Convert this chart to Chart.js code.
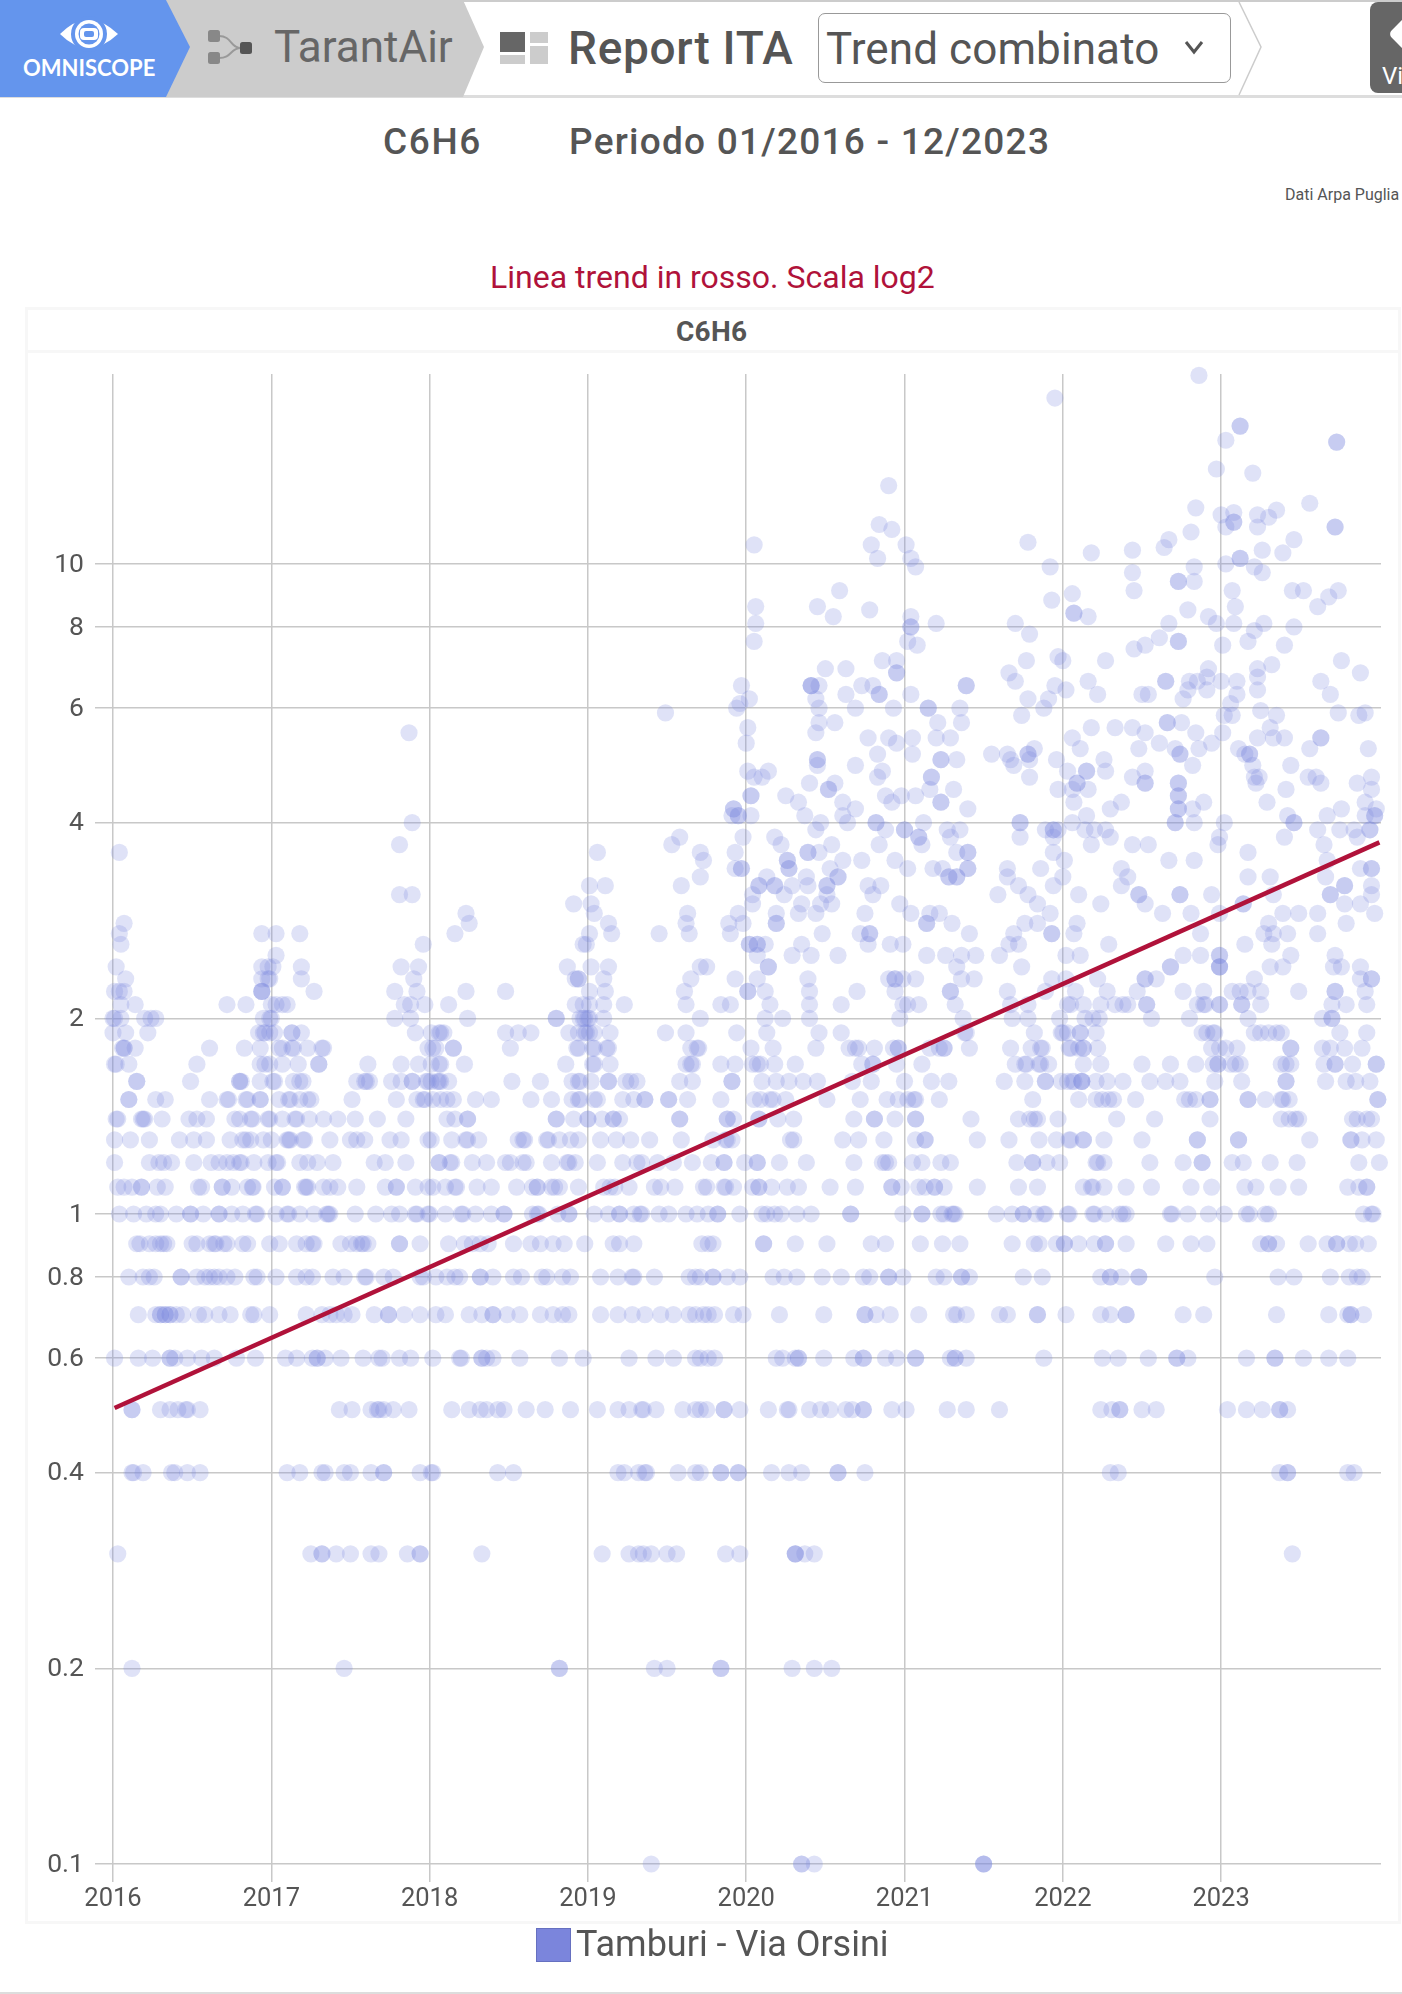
<!DOCTYPE html>
<html>
<head>
<meta charset="utf-8">
<title>C6H6 - TarantAir</title>
<script src="https://cdn.jsdelivr.net/npm/chart.js@4/dist/chart.umd.min.js"></script>
<style>
    html, body { margin: 0; padding: 0; background: #fff; width: 1402px; height: 1994px; overflow: hidden; font-family: Roboto, sans-serif; color: #555; }
    .txt { position: absolute; white-space: nowrap; line-height: 1; }
    #panel { position: absolute; left: 25px; top: 307px; width: 1370px; height: 1611px; border: 3px solid #f7f7f7; box-sizing: content-box; }
    #panel-head { position: absolute; left: 0; right: 0; top: 40px; height: 3px; background: #f7f7f7; }
    #chart { position: absolute; left: 0; top: 0; }
    #nav { position: absolute; left: 0; top: 0; }
    #select { position: absolute; left: 818px; top: 13px; width: 413px; height: 70px; border: 1.5px solid #999; border-radius: 7px; box-sizing: border-box; }
    #view { position: absolute; left: 1370px; top: 2px; width: 32px; height: 91px; background: #666; border-radius: 8px 0 0 8px; overflow: hidden; }
    #legend-box { position: absolute; left: 536px; top: 1928px; width: 35px; height: 34px; background: #7b85dc; border: 1px solid #6670c0; box-sizing: border-box; }
    #bottom-line { position: absolute; left: 0; right: 0; top: 1992px; height: 2px; background: #ddd; }
</style>
</head>
<body>

<svg id="nav" width="1402" height="100" viewBox="0 0 1402 100">
    <rect x="0" y="0" width="1402" height="2" fill="#ccc"/>
    <rect x="0" y="95" width="1402" height="3" fill="#ddd"/>
    <polygon points="165,0 463,0 484,47 463,97 165,97" fill="#ccc"/>
    <polygon points="0,0 166,0 190,47 166,97 0,97" fill="#6495ed"/>
    <polyline points="1239,2 1261,47 1239,95" fill="none" stroke="#ccc" stroke-width="1.5"/>
    <!-- omniscope eye -->
    <path d="M60,34 Q88,6 118,34 Q88,62 60,34 Z" fill="#fff"/>
    <circle cx="89" cy="34" r="18" fill="#6495ed"/>
    <circle cx="89" cy="34" r="14" fill="#fff"/>
    <circle cx="89" cy="34" r="10.5" fill="#6495ed"/>
    <rect x="80" y="28" width="18" height="12" rx="4" fill="#fff"/>
    <rect x="84" y="31" width="10" height="6" rx="2" fill="#6495ed"/>
    <!-- flow icon -->
    <path d="M219,36 C232,36 230,48 241,48 M219,58 C232,58 230,48 241,48" fill="none" stroke="#999" stroke-width="2"/>
    <rect x="208" y="30" width="12" height="12" rx="2.5" fill="#888"/>
    <rect x="208" y="52" width="12" height="12" rx="2.5" fill="#888"/>
    <rect x="240" y="42" width="12" height="12" rx="2.5" fill="#555"/>
    <!-- report icon -->
    <rect x="500" y="32" width="25" height="20" fill="#666"/>
    <rect x="530" y="32" width="18" height="11" fill="#ccc"/>
    <rect x="500" y="55" width="25" height="9" fill="#ccc"/>
    <rect x="530" y="46" width="18" height="18" fill="#ccc"/>
    <!-- select arrow -->
    <polyline points="1186,42 1194,52 1202,42" fill="none" stroke="#555" stroke-width="3"/>
</svg>

<div class="txt" style="left:23px;top:57px;font-family:Lato,sans-serif;font-size:22px;font-weight:700;color:#fff;">OMNISCOPE</div>
<div class="txt" style="left:274px;top:25px;font-size:44px;color:#666;">TarantAir</div>
<div class="txt" style="left:568px;top:25px;font-size:46px;font-weight:500;color:#555;letter-spacing:0.7px;">Report ITA</div>
<div id="select"></div>
<div class="txt" style="left:826px;top:27px;font-size:44px;color:#555;letter-spacing:0.1px;">Trend combinato</div>
<div id="view"><div class="txt" style="left:12px;top:62px;font-size:24px;color:#fff;">Vie</div><div style="position:absolute;left:23px;top:20px;width:24px;height:24px;transform:rotate(45deg);border-radius:5px;background:#fff;"></div></div>

<div class="txt" style="left:383px;top:123px;font-size:37px;font-weight:500;letter-spacing:1.6px;">C6H6</div>
<div class="txt" style="left:569px;top:123px;font-size:37px;font-weight:500;letter-spacing:1.25px;">Periodo 01/2016 - 12/2023</div>
<div class="txt" style="left:1285px;top:187px;font-size:16px;">Dati Arpa Puglia</div>
<div class="txt" style="left:490px;top:261px;font-size:32px;color:#b0123a;">Linea trend in rosso. Scala log2</div>

<div id="panel"><div id="panel-head"></div></div>
<div class="txt" style="left:676px;top:318px;font-size:28px;font-weight:700;letter-spacing:0.3px;">C6H6</div>

<canvas id="chart" width="1402" height="1994"></canvas>

<div id="legend-box"></div>
<div class="txt" style="left:576px;top:1926px;font-size:36px;">Tamburi - Via Orsini</div>
<div id="bottom-line"></div>

<script>
// ============================================
// DATA (decimal years per level)
// ============================================

const seriesName = 'Tamburi - Via Orsini';
const xTickValues = [2016, 2017, 2018, 2019, 2020, 2021, 2022, 2023];
const yTickValues = [0.1, 0.2, 0.4, 0.6, 0.8, 1, 2, 4, 6, 8, 10];
const trendYears = [2016.01, 2024];
const trendValues = [0.503, 3.73];

const y0_1 = [2019.40, 2020.35, 2020.35, 2020.43, 2021.50, 2021.50, 2021.50];
const y0_2 = [2016.12, 2017.46, 2018.82, 2018.82, 2019.42, 2019.50, 2019.84, 2019.84, 2020.29, 2020.43, 2020.54];
const y0_3 = [2016.03, 2017.25, 2017.32, 2017.32, 2017.41, 2017.50, 2017.63, 2017.68, 2017.86, 2017.94, 2017.94, 2018.33, 2019.09, 2019.26, 2019.32, 2019.35, 2019.40, 2019.50, 2019.56, 2019.87, 2019.96, 2020.31, 2020.31, 2020.31, 2020.37, 2020.43, 2023.45];
const y0_4 = [2016.12, 2016.13, 2016.19, 2016.37, 2016.39, 2016.47, 2016.55, 2017.10, 2017.18, 2017.32, 2017.34, 2017.46, 2017.50, 2017.63, 2017.71, 2017.71, 2017.94, 2018.01, 2018.02, 2018.43, 2018.53, 2019.19, 2019.23, 2019.32, 2019.36, 2019.37, 2019.57, 2019.68, 2019.71, 2019.84, 2019.84, 2019.95, 2019.95, 2020.16, 2020.27, 2020.35, 2020.58, 2020.58, 2020.75, 2022.30, 2022.35, 2023.37, 2023.42, 2023.42, 2023.80, 2023.84];
const y0_5 = [2016.12, 2016.12, 2016.30, 2016.36, 2016.41, 2016.46, 2016.47, 2016.55, 2017.43, 2017.51, 2017.63, 2017.67, 2017.68, 2017.71, 2017.77, 2017.87, 2018.14, 2018.25, 2018.32, 2018.36, 2018.43, 2018.47, 2018.61, 2018.73, 2018.89, 2019.06, 2019.19, 2019.26, 2019.34, 2019.35, 2019.43, 2019.60, 2019.68, 2019.71, 2019.75, 2019.86, 2019.86, 2019.96, 2020.14, 2020.26, 2020.27, 2020.40, 2020.47, 2020.53, 2020.63, 2020.67, 2020.74, 2020.74, 2020.92, 2021.01, 2021.27, 2021.39, 2021.60, 2022.24, 2022.31, 2022.36, 2022.36, 2022.50, 2022.59, 2023.04, 2023.16, 2023.26, 2023.37, 2023.37, 2023.42];
const y0_6 = [2016.01, 2016.16, 2016.25, 2016.36, 2016.36, 2016.39, 2016.47, 2016.56, 2016.64, 2016.78, 2016.90, 2017.09, 2017.16, 2017.26, 2017.29, 2017.29, 2017.34, 2017.44, 2017.58, 2017.68, 2017.70, 2017.81, 2017.88, 2018.02, 2018.19, 2018.20, 2018.33, 2018.33, 2018.36, 2018.40, 2018.57, 2018.82, 2018.97, 2019.26, 2019.43, 2019.54, 2019.68, 2019.71, 2019.76, 2019.80, 2020.19, 2020.23, 2020.31, 2020.33, 2020.33, 2020.49, 2020.68, 2020.74, 2020.74, 2020.88, 2020.95, 2021.07, 2021.07, 2021.29, 2021.32, 2021.32, 2021.39, 2021.88, 2022.25, 2022.35, 2022.54, 2022.72, 2022.72, 2022.79, 2023.16, 2023.34, 2023.34, 2023.52, 2023.68, 2023.80];
const y0_7 = [2016.16, 2016.27, 2016.30, 2016.30, 2016.33, 2016.33, 2016.36, 2016.36, 2016.40, 2016.44, 2016.54, 2016.58, 2016.67, 2016.74, 2016.87, 2016.89, 2016.99, 2017.22, 2017.32, 2017.37, 2017.41, 2017.46, 2017.51, 2017.65, 2017.74, 2017.74, 2017.84, 2017.94, 2018.04, 2018.10, 2018.25, 2018.33, 2018.40, 2018.40, 2018.49, 2018.57, 2018.70, 2018.78, 2018.84, 2018.88, 2019.08, 2019.19, 2019.28, 2019.36, 2019.46, 2019.54, 2019.64, 2019.68, 2019.73, 2019.76, 2019.80, 2019.92, 2019.98, 2020.21, 2020.49, 2020.75, 2020.75, 2020.82, 2020.91, 2021.09, 2021.31, 2021.33, 2021.39, 2021.60, 2021.65, 2021.84, 2021.84, 2022.02, 2022.24, 2022.30, 2022.40, 2022.40, 2022.76, 2022.89, 2023.35, 2023.68, 2023.80, 2023.82, 2023.82, 2023.90];
const y0_8 = [2016.10, 2016.19, 2016.23, 2016.26, 2016.43, 2016.43, 2016.53, 2016.58, 2016.61, 2016.64, 2016.67, 2016.72, 2016.77, 2016.89, 2016.91, 2017.03, 2017.16, 2017.22, 2017.26, 2017.39, 2017.46, 2017.60, 2017.59, 2017.71, 2017.77, 2017.94, 2017.96, 2018.04, 2018.11, 2018.16, 2018.19, 2018.32, 2018.32, 2018.40, 2018.53, 2018.58, 2018.71, 2018.74, 2018.84, 2018.89, 2019.08, 2019.19, 2019.28, 2019.29, 2019.42, 2019.64, 2019.68, 2019.71, 2019.79, 2019.79, 2019.88, 2019.96, 2020.17, 2020.24, 2020.32, 2020.48, 2020.60, 2020.74, 2020.78, 2020.90, 2020.90, 2020.99, 2021.20, 2021.25, 2021.36, 2021.36, 2021.41, 2021.75, 2021.87, 2022.24, 2022.30, 2022.30, 2022.37, 2022.48, 2022.48, 2022.96, 2023.36, 2023.46, 2023.69, 2023.81, 2023.86, 2023.89];
const y0_9 = [2016.15, 2016.17, 2016.23, 2016.27, 2016.30, 2016.32, 2016.34, 2016.50, 2016.53, 2016.61, 2016.64, 2016.65, 2016.70, 2016.72, 2016.82, 2016.85, 2016.99, 2017.05, 2017.16, 2017.22, 2017.26, 2017.27, 2017.44, 2017.50, 2017.54, 2017.57, 2017.58, 2017.61, 2017.81, 2017.81, 2017.94, 2018.12, 2018.22, 2018.27, 2018.32, 2018.37, 2018.53, 2018.64, 2018.70, 2018.78, 2018.85, 2018.98, 2019.16, 2019.20, 2019.29, 2019.72, 2019.76, 2019.79, 2020.11, 2020.11, 2020.31, 2020.51, 2020.79, 2020.88, 2021.10, 2021.24, 2021.35, 2021.68, 2021.82, 2021.85, 2021.96, 2022.01, 2022.01, 2022.10, 2022.20, 2022.27, 2022.27, 2022.40, 2022.65, 2022.81, 2022.91, 2023.25, 2023.30, 2023.30, 2023.35, 2023.55, 2023.67, 2023.73, 2023.73, 2023.81, 2023.85, 2023.93];
const y1_0 = [2016.04, 2016.13, 2016.21, 2016.27, 2016.30, 2016.40, 2016.49, 2016.49, 2016.57, 2016.67, 2016.67, 2016.75, 2016.82, 2016.90, 2016.91, 2017.03, 2017.10, 2017.11, 2017.18, 2017.27, 2017.35, 2017.36, 2017.37, 2017.53, 2017.66, 2017.76, 2017.81, 2017.91, 2017.92, 2017.99, 2018.00, 2018.10, 2018.20, 2018.21, 2018.29, 2018.39, 2018.47, 2018.47, 2018.65, 2018.68, 2018.69, 2018.81, 2018.88, 2018.88, 2019.04, 2019.13, 2019.20, 2019.20, 2019.29, 2019.33, 2019.34, 2019.45, 2019.51, 2019.62, 2019.69, 2019.76, 2019.82, 2019.82, 2019.96, 2020.10, 2020.13, 2020.18, 2020.22, 2020.32, 2020.41, 2020.66, 2020.66, 2020.99, 2021.11, 2021.11, 2021.23, 2021.25, 2021.30, 2021.31, 2021.32, 2021.58, 2021.68, 2021.75, 2021.75, 2021.83, 2021.88, 2021.89, 2022.03, 2022.04, 2022.19, 2022.20, 2022.27, 2022.36, 2022.38, 2022.40, 2022.68, 2022.69, 2022.79, 2022.92, 2023.02, 2023.16, 2023.18, 2023.28, 2023.30, 2023.90, 2023.95, 2023.96];
const y1_1 = [2016.03, 2016.07, 2016.12, 2016.18, 2016.18, 2016.28, 2016.33, 2016.54, 2016.56, 2016.69, 2016.69, 2016.75, 2016.85, 2016.88, 2016.885, 2017.02, 2017.07, 2017.07, 2017.21, 2017.22, 2017.23, 2017.33, 2017.37, 2017.42, 2017.54, 2017.72, 2017.79, 2017.79, 2017.91, 2017.99, 2018.02, 2018.10, 2018.16, 2018.17, 2018.30, 2018.39, 2018.55, 2018.65, 2018.68, 2018.68, 2018.77, 2018.79, 2018.82, 2018.94, 2019.10, 2019.14, 2019.17, 2019.26, 2019.42, 2019.46, 2019.55, 2019.73, 2019.75, 2019.86, 2019.87, 2019.92, 2020.04, 2020.08, 2020.08, 2020.16, 2020.26, 2020.33, 2020.53, 2020.69, 2020.92, 2020.92, 2020.98, 2021.09, 2021.13, 2021.19, 2021.19, 2021.25, 2021.46, 2021.72, 2021.84, 2022.13, 2022.18, 2022.19, 2022.26, 2022.40, 2022.56, 2022.81, 2022.94, 2023.15, 2023.22, 2023.36, 2023.49, 2023.80, 2023.87, 2023.92, 2023.92];
const y1_2 = [2016.01, 2016.23, 2016.29, 2016.32, 2016.37, 2016.51, 2016.62, 2016.67, 2016.72, 2016.76, 2016.80, 2016.81, 2016.89, 2016.98, 2017.03, 2017.04, 2017.18, 2017.23, 2017.29, 2017.39, 2017.65, 2017.72, 2017.85, 2018.06, 2018.06, 2018.13, 2018.14, 2018.27, 2018.36, 2018.48, 2018.51, 2018.59, 2018.61, 2018.77, 2018.87, 2018.88, 2018.92, 2019.06, 2019.22, 2019.31, 2019.34, 2019.44, 2019.54, 2019.66, 2019.78, 2019.86, 2019.86, 2019.99, 2020.07, 2020.07, 2020.21, 2020.38, 2020.68, 2020.86, 2020.88, 2020.90, 2021.05, 2021.11, 2021.23, 2021.29, 2021.71, 2021.81, 2021.81, 2021.90, 2021.98, 2022.21, 2022.22, 2022.26, 2022.55, 2022.76, 2022.88, 2022.88, 2023.07, 2023.14, 2023.31, 2023.48, 2023.87, 2024.00];
const y1_3 = [2016.01, 2016.11, 2016.23, 2016.42, 2016.51, 2016.59, 2016.74, 2016.82, 2016.84, 2016.87, 2016.95, 2017.00, 2017.10, 2017.11, 2017.12, 2017.20, 2017.21, 2017.37, 2017.50, 2017.54, 2017.59, 2017.75, 2017.82, 2017.99, 2018.01, 2018.14, 2018.23, 2018.24, 2018.31, 2018.56, 2018.59, 2018.60, 2018.74, 2018.75, 2018.82, 2018.89, 2018.94, 2019.08, 2019.18, 2019.27, 2019.39, 2019.59, 2019.79, 2019.87, 2019.88, 2019.91, 2020.28, 2020.30, 2020.61, 2020.71, 2020.87, 2021.07, 2021.13, 2021.13, 2021.46, 2021.66, 2021.85, 2021.96, 2022.04, 2022.05, 2022.13, 2022.13, 2022.26, 2022.50, 2022.85, 2022.85, 2023.11, 2023.11, 2023.56, 2023.82, 2023.82, 2023.89, 2023.98];
const y1_4 = [2016.02, 2016.03, 2016.18, 2016.19, 2016.20, 2016.31, 2016.48, 2016.53, 2016.59, 2016.77, 2016.80, 2016.87, 2016.88, 2016.98, 2016.99, 2017.07, 2017.15, 2017.16, 2017.24, 2017.33, 2017.42, 2017.53, 2017.67, 2017.85, 2018.11, 2018.16, 2018.24, 2018.24, 2018.80, 2018.80, 2018.91, 2019.00, 2019.00, 2019.09, 2019.16, 2019.16, 2019.20, 2019.58, 2019.58, 2019.88, 2019.88, 2019.92, 2020.08, 2020.08, 2020.20, 2020.30, 2020.68, 2020.81, 2020.81, 2020.94, 2021.07, 2021.07, 2021.42, 2021.72, 2021.79, 2021.82, 2021.84, 2021.97, 2022.34, 2022.58, 2022.93, 2023.38, 2023.43, 2023.47, 2023.49, 2023.83, 2023.86, 2023.92, 2023.95];
const y1_5 = [2016.10, 2016.10, 2016.27, 2016.33, 2016.61, 2016.72, 2016.73, 2016.84, 2016.85, 2016.93, 2016.93, 2017.05, 2017.11, 2017.12, 2017.18, 2017.23, 2017.25, 2017.51, 2017.79, 2017.92, 2017.96, 2017.97, 2018.02, 2018.07, 2018.11, 2018.15, 2018.29, 2018.39, 2018.64, 2018.77, 2018.90, 2018.94, 2018.95, 2019.04, 2019.06, 2019.22, 2019.29, 2019.36, 2019.36, 2019.51, 2019.51, 2019.63, 2019.84, 2020.05, 2020.09, 2020.15, 2020.17, 2020.25, 2020.51, 2020.72, 2020.89, 2020.96, 2021.02, 2021.06, 2021.07, 2021.22, 2021.81, 2022.10, 2022.21, 2022.25, 2022.29, 2022.32, 2022.46, 2022.77, 2022.80, 2022.84, 2022.93, 2022.93, 2023.17, 2023.17, 2023.28, 2023.38, 2023.39, 2023.43, 2023.99, 2023.99];
const y1_6 = [2016.15, 2016.15, 2016.49, 2016.80, 2016.80, 2016.81, 2016.93, 2017.01, 2017.02, 2017.14, 2017.18, 2017.20, 2017.54, 2017.59, 2017.60, 2017.62, 2017.76, 2017.82, 2017.89, 2017.89, 2017.98, 2017.99, 2018.01, 2018.05, 2018.06, 2018.07, 2018.12, 2018.52, 2018.70, 2018.90, 2018.94, 2018.95, 2019.02, 2019.13, 2019.13, 2019.24, 2019.27, 2019.31, 2019.58, 2019.66, 2019.91, 2019.91, 2020.10, 2020.19, 2020.27, 2020.36, 2020.45, 2020.67, 2020.79, 2021.00, 2021.17, 2021.28, 2021.63, 2021.76, 2021.89, 2021.89, 2021.99, 2022.06, 2022.03, 2022.07, 2022.12, 2022.12, 2022.12, 2022.21, 2022.28, 2022.38, 2022.55, 2022.65, 2022.74, 2022.96, 2023.13, 2023.41, 2023.41, 2023.66, 2023.79, 2023.85, 2023.94];
const y1_7 = [2016.01, 2016.02, 2016.10, 2016.53, 2016.93, 2016.96, 2016.99, 2017.07, 2017.17, 2017.30, 2017.30, 2017.61, 2017.82, 2017.93, 2018.01, 2018.06, 2018.07, 2018.22, 2018.86, 2019.03, 2019.04, 2019.14, 2019.62, 2019.65, 2019.66, 2019.84, 2019.93, 2020.04, 2020.07, 2020.09, 2020.18, 2020.31, 2020.73, 2020.80, 2020.80, 2020.95, 2021.11, 2021.70, 2021.76, 2021.77, 2021.85, 2021.86, 2021.91, 2022.13, 2022.24, 2022.50, 2022.68, 2022.84, 2022.95, 2022.98, 2022.98, 2023.06, 2023.09, 2023.12, 2023.38, 2023.41, 2023.44, 2023.65, 2023.72, 2023.72, 2023.83, 2023.98, 2023.98];
const y1_8 = [2016.06, 2016.07, 2016.07, 2016.14, 2016.61, 2016.83, 2016.93, 2017.05, 2017.07, 2017.13, 2017.14, 2017.23, 2017.32, 2017.33, 2017.99, 2018.02, 2018.04, 2018.15, 2018.15, 2018.51, 2018.93, 2018.94, 2019.03, 2019.04, 2019.12, 2019.13, 2019.65, 2019.69, 2019.70, 2020.03, 2020.17, 2020.44, 2020.65, 2020.69, 2020.71, 2020.81, 2020.93, 2020.96, 2020.96, 2021.16, 2021.22, 2021.25, 2021.25, 2021.41, 2021.67, 2021.80, 2021.86, 2021.87, 2022.04, 2022.05, 2022.10, 2022.13, 2022.13, 2022.22, 2022.94, 2022.99, 2023.03, 2023.10, 2023.44, 2023.44, 2023.64, 2023.69, 2023.78, 2023.89];
const y1_9 = [2016.00, 2016.08, 2016.22, 2016.92, 2016.95, 2016.96, 2016.99, 2017.02, 2017.13, 2017.13, 2017.19, 2017.91, 2018.01, 2018.06, 2018.07, 2018.09, 2018.48, 2018.56, 2018.64, 2018.88, 2018.94, 2018.98, 2018.99, 2019.01, 2019.04, 2019.14, 2019.49, 2019.62, 2019.94, 2020.13, 2020.46, 2020.60, 2021.38, 2021.39, 2021.82, 2021.99, 2022.00, 2022.03, 2022.11, 2022.11, 2022.21, 2022.88, 2022.91, 2022.95, 2022.96, 2023.21, 2023.25, 2023.30, 2023.35, 2023.38, 2023.75, 2023.92];
const y2_0 = [2016.00, 2016.01, 2016.05, 2016.20, 2016.24, 2016.27, 2016.95, 2016.99, 2017.00, 2017.78, 2017.88, 2018.24, 2018.80, 2018.80, 2018.95, 2018.97, 2018.98, 2019.00, 2019.01, 2019.10, 2019.71, 2020.12, 2020.23, 2020.40, 2020.97, 2021.37, 2021.68, 2021.78, 2021.98, 2022.14, 2022.19, 2022.23, 2022.56, 2022.80, 2023.17, 2023.64, 2023.70, 2023.70];
const y2_1 = [2016.05, 2016.14, 2016.72, 2016.84, 2017.00, 2017.03, 2017.07, 2017.10, 2017.84, 2017.88, 2017.97, 2018.12, 2018.92, 2018.97, 2019.01, 2019.10, 2019.23, 2019.62, 2019.84, 2019.90, 2020.15, 2020.40, 2020.60, 2020.99, 2021.02, 2021.09, 2021.32, 2021.67, 2021.78, 2022.03, 2022.05, 2022.13, 2022.24, 2022.33, 2022.38, 2022.41, 2022.53, 2022.53, 2022.85, 2022.89, 2022.90, 2022.99, 2022.99, 2023.13, 2023.13, 2023.25, 2023.70, 2023.79, 2023.92];
const y2_2 = [2016.01, 2016.04, 2016.07, 2016.94, 2016.94, 2016.94, 2017.27, 2017.78, 2017.92, 2018.23, 2018.48, 2019.01, 2019.11, 2019.61, 2020.01, 2020.01, 2020.12, 2020.40, 2020.70, 2020.94, 2021.29, 2021.29, 2021.65, 2021.89, 2022.08, 2022.28, 2022.47, 2022.76, 2022.89, 2023.07, 2023.12, 2023.17, 2023.25, 2023.49, 2023.72, 2023.72, 2023.91];
const y2_3 = [2016.08, 2016.94, 2016.98, 2016.99, 2017.19, 2017.90, 2018.92, 2018.94, 2018.94, 2019.10, 2019.65, 2019.93, 2020.07, 2020.39, 2020.90, 2020.94, 2020.94, 2020.99, 2021.07, 2021.36, 2021.44, 2021.93, 2022.02, 2022.22, 2022.52, 2022.52, 2022.59, 2023.21, 2023.88, 2023.95, 2023.95];
const y2_4 = [2016.02, 2016.94, 2016.98, 2017.01, 2017.19, 2017.82, 2017.93, 2018.87, 2019.02, 2019.13, 2019.71, 2019.75, 2020.14, 2020.14, 2021.33, 2021.74, 2022.68, 2022.68, 2022.99, 2022.99, 2022.99, 2023.31, 2023.39, 2023.71, 2023.76, 2023.88];
const y2_5 = [2017.03, 2020.07, 2020.29, 2020.41, 2020.58, 2021.14, 2021.26, 2021.36, 2021.45, 2021.60, 2022.02, 2022.11, 2022.76, 2022.87, 2022.99, 2022.99, 2023.44, 2023.72];
const y2_6 = [2016.05, 2017.96, 2018.97, 2018.99, 2020.02, 2020.02, 2020.07, 2020.07, 2020.12, 2020.35, 2020.77, 2020.91, 2020.99, 2021.66, 2021.72, 2022.29, 2023.15, 2023.32];
const y2_7 = [2016.04, 2016.94, 2017.03, 2017.18, 2018.16, 2019.01, 2019.15, 2019.45, 2019.64, 2019.90, 2020.48, 2020.72, 2020.78, 2020.78, 2021.41, 2021.69, 2021.93, 2021.93, 2022.07, 2022.87, 2023.27, 2023.33, 2023.42, 2023.61];
const y2_8 = [2016.07, 2018.25, 2019.13, 2019.62, 2019.89, 2019.98, 2020.19, 2020.19, 2021.14, 2021.14, 2021.30, 2021.76, 2021.84, 2022.09, 2023.30, 2023.79];
const y2_9 = [2018.23, 2019.04, 2019.63, 2019.95, 2020.19, 2020.33, 2020.44, 2020.75, 2021.04, 2021.16, 2021.22, 2021.92, 2022.63, 2022.81, 2022.99, 2023.39, 2023.49, 2023.61, 2023.97];
const y3_0 = [2018.91, 2019.02, 2020.04, 2020.35, 2020.47, 2020.54, 2020.97, 2021.84, 2022.24, 2022.52, 2023.14, 2023.14, 2023.78, 2023.88];
const y3_1 = [2017.81, 2017.89, 2020.04, 2020.24, 2020.51, 2020.80, 2021.59, 2021.78, 2022.10, 2022.48, 2022.48, 2022.74, 2022.74, 2022.94, 2023.33, 2023.69, 2023.69, 2023.95];
const y3_2 = [2019.01, 2019.11, 2019.59, 2020.08, 2020.08, 2020.18, 2020.18, 2020.29, 2020.39, 2020.51, 2020.51, 2020.77, 2020.85, 2021.72, 2021.94, 2022.37, 2023.78, 2023.78, 2023.95];
const y3_3 = [2019.71, 2020.13, 2020.38, 2020.58, 2020.58, 2021.28, 2021.28, 2021.33, 2021.33, 2021.65, 2022.00, 2022.41, 2023.17, 2023.31, 2023.66];
const y3_4 = [2019.93, 2019.97, 2019.97, 2020.27, 2020.27, 2020.53, 2021.02, 2021.18, 2021.24, 2021.40, 2021.40, 2021.65, 2021.86, 2022.37, 2023.88, 2023.95, 2023.95];
const y3_5 = [2019.73, 2020.26, 2020.26, 2020.61, 2020.73, 2020.94, 2022.01, 2022.67, 2022.83, 2023.67];
const y3_6 = [2016.04, 2019.06, 2019.71, 2019.93, 2020.39, 2020.39, 2020.46, 2021.33, 2021.40, 2021.40, 2021.94, 2023.17];
const y3_7 = [2017.81, 2019.53, 2020.22, 2020.54, 2020.84, 2021.11, 2022.18, 2022.44, 2022.54, 2022.98, 2023.65];
const y3_8 = [2019.58, 2019.98, 2020.18, 2021.09, 2021.09, 2021.29, 2021.73, 2021.94, 2022.30, 2022.99, 2023.40, 2023.86];
const y3_9 = [2020.44, 2020.88, 2021.00, 2021.00, 2021.27, 2021.35, 2021.89, 2021.94, 2021.94, 2021.97, 2022.14, 2022.20, 2022.27, 2023.61, 2023.75, 2023.84, 2023.94, 2023.94];
const y4_0 = [2017.89, 2020.47, 2020.64, 2020.82, 2020.82, 2021.12, 2021.73, 2021.73, 2022.06, 2022.71, 2022.71, 2022.83, 2023.02, 2023.46, 2023.46];
const y4_1 = [2019.91, 2019.95, 2019.95, 2020.03, 2020.37, 2020.61, 2022.15, 2023.42, 2023.67, 2023.91, 2023.97, 2023.97];
const y4_2 = [2019.92, 2019.92, 2020.69, 2021.40, 2022.30, 2022.73, 2022.73, 2022.82, 2023.76, 2023.98];
const y4_3 = [2020.33, 2020.61, 2020.92, 2021.23, 2021.23, 2022.07, 2022.37, 2022.89, 2023.29, 2023.91];
const y4_4 = [2020.03, 2020.03, 2020.25, 2020.88, 2020.98, 2021.07, 2022.73, 2022.73];
const y4_5 = [2020.52, 2020.52, 2021.16, 2021.31, 2021.97, 2022.06, 2022.16, 2023.41, 2023.95];
const y4_6 = [2020.40, 2020.56, 2022.09, 2022.09, 2022.52, 2022.52, 2022.73, 2022.73, 2023.22, 2023.63, 2023.86];
const y4_7 = [2020.05, 2020.10, 2020.83, 2021.17, 2021.17, 2021.79, 2022.44, 2023.21, 2023.24, 2023.55, 2023.60, 2023.95];
const y4_8 = [2020.01, 2020.14, 2020.86, 2022.03, 2022.15, 2022.15, 2022.27, 2022.52];
const y4_9 = [2020.45, 2020.69, 2021.69, 2022.82, 2023.20, 2023.44];
const y5_0 = [2020.45, 2020.45, 2021.23, 2021.23, 2021.33, 2021.67, 2021.79, 2021.96, 2022.26];
const y5_1 = [2020.83, 2021.05, 2021.55, 2021.65, 2021.78, 2021.78, 2022.74, 2022.74, 2023.15, 2023.18, 2023.18];
const y5_2 = [2021.82, 2022.11, 2022.48, 2022.71, 2022.86, 2023.11, 2023.56, 2023.93];
const y5_3 = [2020.00, 2020.95, 2022.61, 2022.94];
const y5_4 = [2020.77, 2020.90, 2021.05, 2021.20, 2021.29, 2022.06, 2023.23, 2023.33, 2023.40, 2023.63, 2023.63];
const y5_5 = [2017.87, 2020.44, 2022.52, 2022.84, 2023.01];
const y5_6 = [2020.01, 2022.18, 2022.33, 2022.44, 2023.31];
const y5_7 = [2020.46, 2020.56, 2021.21, 2021.36, 2022.66, 2022.66, 2022.75];

// scattered readings above 5.7 as [year, value]
const upperPoints = [
    [2019.49, 5.9], [2021.74, 5.85], [2023.02, 5.85], [2023.07, 5.85], [2023.35, 5.85], [2023.87, 5.85], [2023.74, 5.9], [2023.91, 5.9], [2023.25, 5.95],
    [2020.46, 6.0], [2020.69, 6.0], [2020.93, 6.0], [2021.15, 6.0], [2021.15, 6.0], [2021.35, 6.0], [2021.88, 6.0], [2019.94, 6.0], [2019.96, 6.1], [2023.06, 6.1],
    [2020.02, 6.2], [2020.44, 6.2], [2021.78, 6.2], [2021.91, 6.2], [2022.76, 6.2],
    [2020.84, 6.3], [2020.84, 6.3], [2021.04, 6.3], [2020.63, 6.3], [2022.22, 6.3], [2022.50, 6.3], [2022.54, 6.3], [2023.10, 6.3], [2023.69, 6.3],
    [2022.02, 6.4], [2023.23, 6.4], [2022.91, 6.4], [2022.79, 6.4],
    [2019.97, 6.5], [2020.41, 6.5], [2020.41, 6.5], [2020.41, 6.5], [2020.46, 6.5], [2021.39, 6.5], [2021.39, 6.5], [2020.73, 6.5], [2020.80, 6.5], [2021.95, 6.5],
    [2021.70, 6.6], [2022.16, 6.6], [2022.65, 6.6], [2022.65, 6.6], [2022.80, 6.6], [2022.85, 6.6], [2023.00, 6.6], [2023.10, 6.6], [2023.63, 6.6],
    [2022.91, 6.7], [2023.23, 6.7], [2021.66, 6.8], [2020.95, 6.8], [2020.95, 6.8], [2023.88, 6.8],
    [2020.50, 6.9], [2020.63, 6.9], [2023.23, 6.9], [2022.92, 6.9], [2023.32, 7.0],
    [2022.00, 7.1], [2021.77, 7.1], [2022.27, 7.1], [2023.76, 7.1], [2020.86, 7.1], [2020.95, 7.1], [2021.97, 7.2],
    [2022.45, 7.4], [2022.52, 7.5], [2021.08, 7.5], [2023.40, 7.5], [2023.01, 7.5],
    [2020.05, 7.6], [2021.02, 7.6], [2022.73, 7.6], [2022.73, 7.6], [2023.17, 7.6], [2022.61, 7.7],
    [2021.79, 7.8], [2023.21, 7.9], [2023.46, 8.0], [2021.04, 8.0], [2021.04, 8.0],
    [2020.06, 8.1], [2021.20, 8.1], [2021.70, 8.1], [2022.67, 8.1], [2022.97, 8.1], [2023.08, 8.1], [2023.27, 8.1],
    [2022.16, 8.3], [2020.55, 8.3], [2021.04, 8.3], [2022.92, 8.3], [2022.07, 8.4], [2022.07, 8.4],
    [2020.78, 8.5], [2022.79, 8.5], [2020.06, 8.6], [2020.45, 8.6], [2023.09, 8.6], [2023.61, 8.6],
    [2021.93, 8.8], [2023.68, 8.9], [2022.06, 9.0],
    [2022.45, 9.1], [2020.59, 9.1], [2023.07, 9.1], [2023.45, 9.1], [2023.52, 9.1], [2023.74, 9.1],
    [2022.73, 9.4], [2022.73, 9.4], [2022.83, 9.4], [2022.44, 9.7], [2023.26, 9.7],
    [2021.92, 9.9], [2021.07, 9.9], [2022.83, 9.9], [2023.21, 9.9], [2023.03, 10.0],
    [2020.83, 10.2], [2021.04, 10.2], [2023.12, 10.2], [2023.12, 10.2], [2022.18, 10.4], [2023.39, 10.4], [2022.44, 10.5], [2023.26, 10.5], [2022.64, 10.6],
    [2020.05, 10.7], [2020.79, 10.7], [2021.01, 10.7], [2021.78, 10.8], [2022.67, 10.9], [2023.46, 10.9],
    [2022.81, 11.2], [2020.92, 11.3], [2023.03, 11.4], [2023.23, 11.4], [2023.72, 11.4], [2023.72, 11.4], [2020.84, 11.5], [2023.08, 11.6], [2023.08, 11.6],
    [2023.30, 11.8], [2023.00, 11.9], [2023.23, 11.9], [2023.08, 12.0], [2023.35, 12.1], [2022.84, 12.2], [2023.56, 12.4],
    [2020.90, 13.2], [2023.20, 13.8], [2022.97, 14.0], [2023.73, 15.4], [2023.73, 15.4], [2023.03, 15.5], [2023.12, 16.3], [2023.12, 16.3],
    [2021.95, 18.0], [2022.86, 19.5]
];

// levels as pairs of value and years
const levels = [
    [0.1, y0_1], [0.2, y0_2], [0.3, y0_3], [0.4, y0_4], [0.5, y0_5], [0.6, y0_6], [0.7, y0_7], [0.8, y0_8], [0.9, y0_9],
    [1.0, y1_0], [1.1, y1_1], [1.2, y1_2], [1.3, y1_3], [1.4, y1_4], [1.5, y1_5], [1.6, y1_6], [1.7, y1_7], [1.8, y1_8], [1.9, y1_9],
    [2.0, y2_0], [2.1, y2_1], [2.2, y2_2], [2.3, y2_3], [2.4, y2_4], [2.5, y2_5], [2.6, y2_6], [2.7, y2_7], [2.8, y2_8], [2.9, y2_9],
    [3.0, y3_0], [3.1, y3_1], [3.2, y3_2], [3.3, y3_3], [3.4, y3_4], [3.5, y3_5], [3.6, y3_6], [3.7, y3_7], [3.8, y3_8], [3.9, y3_9],
    [4.0, y4_0], [4.1, y4_1], [4.2, y4_2], [4.3, y4_3], [4.4, y4_4], [4.5, y4_5], [4.6, y4_6], [4.7, y4_7], [4.8, y4_8], [4.9, y4_9],
    [5.0, y5_0], [5.1, y5_1], [5.2, y5_2], [5.3, y5_3], [5.4, y5_4], [5.5, y5_5], [5.6, y5_6], [5.7, y5_7]
];

const points = [];
levels.forEach(([value, years]) => {
    years.forEach(year => points.push({ x: year, y: value }));
});
upperPoints.forEach(([year, value]) => points.push({ x: year, y: value }));

const trend = trendYears.map((year, i) => ({ x: year, y: trendValues[i] }));

// ============================================
// CHART
// ============================================

new Chart(document.getElementById('chart'), {
    type: 'scatter',
    data: {
        datasets: [
            {
                label: seriesName,
                data: points,
                backgroundColor: 'rgba(123, 133, 220, 0.24)',
                borderWidth: 0,
                pointRadius: 8.6,
                pointHoverRadius: 8.6,
                clip: false,
                order: 2
            },
            {
                label: 'Trend',
                data: trend,
                showLine: true,
                borderColor: '#b0123a',
                borderWidth: 4.5,
                pointRadius: 0,
                order: 1
            }
        ]
    },
    options: {
        responsive: false,
        animation: false,
        layout: { padding: { left: 0, top: 374, right: 21, bottom: 0 } },
        plugins: {
            legend: { display: false },
            tooltip: { enabled: false }
        },
        scales: {
            x: {
                type: 'linear',
                min: 2016,
                max: 2024.01,
                afterBuildTicks: scale => { scale.ticks = xTickValues.map(v => ({ value: v })); },
                afterFit: scale => { scale.height = 130; },
                border: { display: false },
                grid: { color: '#c8c8c8', lineWidth: 1.5, tickLength: 18, tickColor: '#c8c8c8' },
                ticks: {
                    color: '#555',
                    font: { family: 'Roboto', size: 25.5 },
                    padding: 2,
                    maxRotation: 0,
                    autoSkip: false,
                    callback: value => String(value)
                }
            },
            y: {
                type: 'logarithmic',
                min: 0.1,
                max: 19.6,
                afterBuildTicks: scale => { scale.ticks = yTickValues.map(v => ({ value: v })); },
                afterFit: scale => { scale.width = 113; },
                border: { display: false },
                grid: { color: '#c8c8c8', lineWidth: 1.5, tickLength: 18, tickColor: '#c8c8c8' },
                ticks: {
                    color: '#555',
                    font: { family: 'Roboto', size: 26.5 },
                    padding: 11,
                    labelOffset: 1,
                    autoSkip: false,
                    callback: value => String(value)
                }
            }
        }
    }
});
</script>
</body>
</html>
